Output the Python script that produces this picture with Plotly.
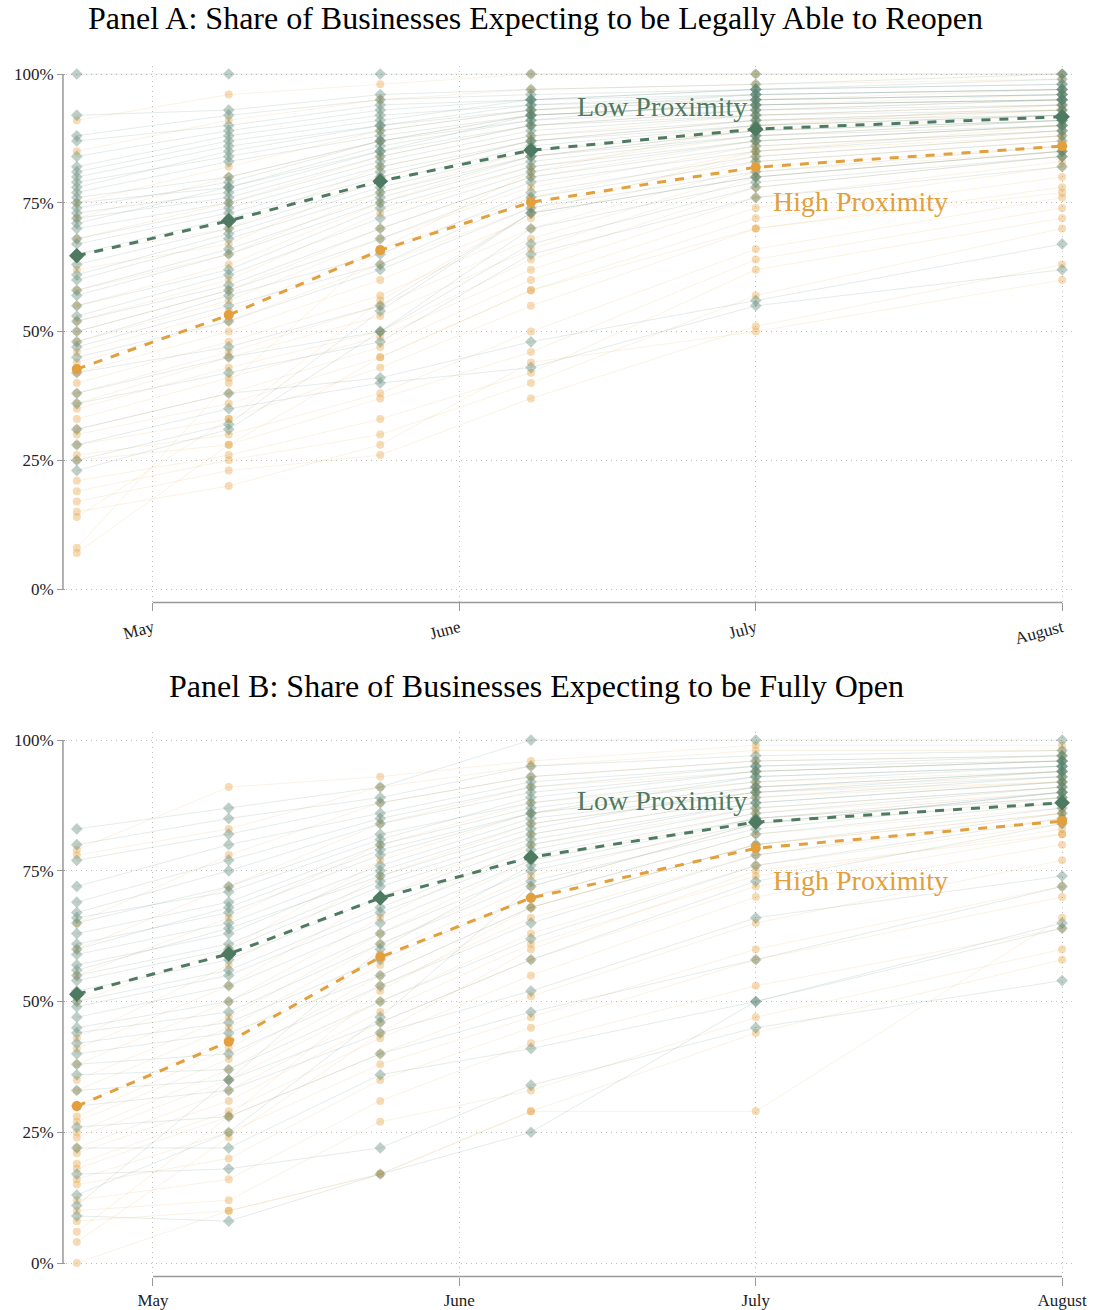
import plotly.graph_objects as go

# ---------------- data ----------------
dates = ["2020-04-23 07:00", "2020-05-08 16:00", "2020-05-24", "2020-06-08 06:00", "2020-07-01", "2020-08-01"]
month_ticks = ["2020-05-01", "2020-06-01", "2020-07-01", "2020-08-01"]
month_labels = ["May", "June", "July", "August"]
y_ticks = [0, 25, 50, 75, 100]

titles = ["Panel A: Share of Businesses Expecting to be Legally Able to Reopen",
          "Panel B: Share of Businesses Expecting to be Fully Open"]

# Panel A: legally able to reopen (%), one row per business group
a_low = [
    [100, 100, 100, 100, 100, 100], [92, 93, 96, 97, 98, 100], [88, 92, 95, 96, 97, 98],
    [87, 90, 94, 95, 97, 98], [84, 89, 93, 95, 96, 97], [82, 88, 92, 94, 96, 97],
    [80, 86, 90, 94, 95, 96], [79, 84, 89, 93, 95, 96], [77, 83, 88, 92, 94, 95],
    [76, 80, 87, 92, 94, 95], [75, 78, 86, 91, 93, 95], [73, 77, 85, 90, 93, 94],
    [72, 76, 84, 90, 92, 94], [70, 75, 83, 89, 92, 93], [68, 74, 82, 88, 91, 93],
    [67, 73, 81, 87, 91, 92], [65, 72, 80, 87, 90, 92], [63, 70, 79, 86, 90, 92],
    [61, 69, 78, 85, 89, 91], [60, 68, 77, 84, 89, 91], [58, 66, 76, 84, 88, 91],
    [57, 65, 75, 83, 88, 90], [55, 62, 74, 82, 87, 90], [53, 61, 72, 81, 87, 90],
    [52, 59, 70, 80, 86, 89], [50, 58, 68, 79, 85, 89], [48, 57, 65, 77, 84, 88],
    [47, 55, 63, 76, 83, 87], [45, 52, 62, 74, 81, 86], [42, 47, 55, 73, 80, 85],
    [38, 45, 50, 67, 78, 84], [36, 42, 48, 65, 76, 82], [31, 38, 41, 48, 56, 67],
    [28, 35, 40, 43, 55, 62], [25, 32, 54, 73, 80, 85], [23, 31, 50, 70, 79, 84],
    [81, 87, 91, 95, 97, 99], [78, 85, 90, 93, 96, 97], [74, 79, 87, 91, 95, 96],
    [71, 78, 85, 92, 94, 95],
]
a_high = [
    [91, 96, 98, 100, 100, 100], [85, 91, 95, 97, 98, 99], [75, 82, 89, 93, 95, 97],
    [72, 80, 87, 92, 94, 96], [68, 75, 84, 90, 93, 95], [65, 70, 82, 88, 92, 94],
    [62, 67, 80, 87, 91, 93], [58, 65, 77, 85, 90, 93], [55, 63, 75, 84, 89, 92],
    [52, 60, 73, 82, 88, 91], [50, 58, 70, 80, 87, 90], [48, 56, 68, 78, 86, 89],
    [46, 54, 66, 76, 85, 88], [44, 52, 63, 74, 84, 88], [42, 50, 60, 72, 83, 87],
    [40, 48, 57, 70, 82, 86], [38, 46, 55, 68, 81, 85], [36, 45, 53, 66, 80, 85],
    [35, 43, 50, 64, 78, 84], [33, 41, 49, 62, 76, 83], [31, 38, 47, 60, 74, 82],
    [30, 36, 45, 58, 72, 80], [28, 33, 43, 55, 70, 78], [26, 30, 38, 50, 66, 76],
    [25, 28, 37, 46, 64, 74], [21, 26, 33, 42, 62, 72], [19, 25, 30, 40, 57, 70],
    [17, 23, 26, 37, 51, 63], [15, 20, 28, 44, 50, 60], [14, 33, 56, 73, 85, 90],
    [8, 40, 66, 81, 90, 94], [7, 28, 45, 58, 70, 77],
]
a_low_mean = [64.7, 71.5, 79.2, 85.2, 89.3, 91.7]
a_high_mean = [42.7, 53.2, 65.8, 75.1, 81.9, 86.0]

# Panel B: fully open (%)
b_low = [
    [83, 87, 91, 100, 100, 100], [80, 85, 89, 95, 97, 98], [77, 82, 88, 93, 96, 97],
    [72, 80, 86, 92, 95, 97], [69, 77, 85, 91, 95, 96], [67, 75, 84, 90, 94, 96],
    [65, 72, 82, 88, 93, 95], [63, 69, 80, 87, 92, 95], [61, 67, 78, 86, 91, 94],
    [59, 65, 76, 85, 90, 94], [57, 63, 75, 84, 90, 93], [55, 61, 73, 82, 89, 93],
    [54, 60, 72, 81, 88, 92], [52, 58, 70, 80, 88, 92], [50, 56, 68, 79, 87, 91],
    [49, 55, 67, 78, 86, 91], [47, 53, 65, 77, 85, 90], [45, 50, 63, 75, 84, 90],
    [44, 48, 61, 73, 83, 89], [42, 46, 58, 70, 82, 88], [40, 44, 55, 68, 80, 87],
    [38, 40, 53, 65, 78, 86], [36, 37, 50, 62, 76, 85], [33, 35, 46, 58, 73, 84],
    [30, 33, 44, 52, 66, 74], [26, 28, 40, 48, 58, 72], [22, 22, 36, 41, 50, 65],
    [17, 18, 22, 34, 45, 54], [13, 25, 47, 72, 84, 90], [9, 8, 17, 25, 50, 64],
    [11, 35, 60, 76, 85, 89], [66, 71, 81, 89, 94, 96], [60, 68, 79, 86, 93, 95],
    [56, 64, 74, 83, 91, 94],
]
b_high = [
    [79, 91, 93, 96, 99, 99], [78, 83, 91, 95, 98, 98], [65, 78, 88, 93, 96, 97],
    [60, 72, 84, 91, 94, 96], [55, 66, 80, 88, 92, 94], [50, 60, 77, 86, 91, 93],
    [43, 57, 74, 84, 90, 92], [41, 53, 70, 82, 89, 92], [38, 50, 66, 80, 87, 91],
    [35, 47, 63, 77, 86, 90], [33, 45, 61, 74, 85, 89], [30, 43, 59, 72, 84, 88],
    [28, 41, 57, 70, 82, 87], [27, 39, 55, 68, 80, 86], [25, 37, 53, 66, 78, 85],
    [24, 35, 50, 63, 76, 84], [22, 33, 48, 61, 74, 83], [21, 31, 46, 58, 72, 82],
    [19, 29, 43, 55, 70, 80], [18, 28, 40, 51, 65, 77], [16, 25, 38, 47, 60, 72],
    [15, 20, 35, 45, 58, 70], [12, 16, 31, 42, 53, 64], [10, 12, 27, 33, 47, 60],
    [8, 10, 17, 29, 44, 58], [6, 28, 52, 68, 80, 86], [4, 24, 44, 60, 75, 82],
    [0, 10, 17, 29, 29, 66],
]
b_low_mean = [51.4, 59.1, 69.8, 77.6, 84.3, 88.0]
b_high_mean = [30.0, 42.3, 58.5, 69.8, 79.3, 84.5]

# ---------------- style ----------------
GREEN = "#4f7a62"
ORANGE = "#e29f3c"
G_LINE = "rgba(95,135,125,0.16)"
G_MARK = "rgba(85,130,110,0.38)"
O_LINE = "rgba(228,160,62,0.14)"
O_MARK = "rgba(228,160,62,0.38)"
SERIF = "Liberation Serif, Times New Roman, serif"
GRID = "#bdbdbd"

fig = go.Figure()

panels = [
    (a_low, a_high, a_low_mean, a_high_mean, "x", "y"),
    (b_low, b_high, b_low_mean, b_high_mean, "x2", "y2"),
]

for low, high, lm, hm, xa, ya in panels:
    for grp, lc, mc, sym in ((high, O_LINE, O_MARK, "circle"), (low, G_LINE, G_MARK, "diamond")):
        for row in grp:
            fig.add_trace(go.Scatter(
                x=dates, y=row, mode="lines+markers", xaxis=xa, yaxis=ya,
                line=dict(color=lc, width=1),
                marker=dict(color=mc, size=8 if sym == "circle" else 9, symbol=sym, line=dict(width=0)),
                showlegend=False, hoverinfo="skip"))
    fig.add_trace(go.Scatter(
        x=dates, y=hm, mode="lines+markers", xaxis=xa, yaxis=ya,
        line=dict(color=ORANGE, width=3, dash="dash"),
        marker=dict(color=ORANGE, size=10, symbol="circle"), showlegend=False))
    fig.add_trace(go.Scatter(
        x=dates, y=lm, mode="lines+markers", xaxis=xa, yaxis=ya,
        line=dict(color=GREEN, width=3, dash="dash"),
        marker=dict(color=GREEN, size=12, symbol="diamond"), showlegend=False))

H = 1310.0
W = 1096.0
xdom = [66 / W, 1072 / W]
x_range = ["2020-04-22 04:48", "2020-08-02"]

def yaxis_cfg(top_px, bot_px, anchor):
    return dict(
        domain=[1 - bot_px / H, 1 - top_px / H], range=[-2.6, 101.5], anchor=anchor,
        tickvals=y_ticks, ticktext=[f"{v}%" for v in y_ticks], automargin=False,
        showgrid=True, gridcolor=GRID, griddash="1px,4px", gridwidth=1,
        zeroline=False, showline=False, ticks="outside", ticklen=8, tickcolor="#999",
        tickfont=dict(family=SERIF, size=17, color="#222"), fixedrange=True)

def xaxis_cfg(anchor, angle):
    return dict(
        domain=xdom, range=x_range, type="date", anchor=anchor, automargin=False,
        tickvals=month_ticks, ticktext=month_labels, tickangle=angle,
        showgrid=True, gridcolor=GRID, griddash="1px,4px", gridwidth=1,
        zeroline=False, showline=False, ticks="outside", ticklen=8, tickcolor="#999",
        tickfont=dict(family=SERIF, size=17, color="#222"), fixedrange=True)

shapes = []
for xr, yr in (("x", "y"), ("x2", "y2")):
    shapes.append(dict(type="line", xref=f"{xr} domain", yref=yr, x0=-0.003, x1=-0.003, y0=0, y1=100,
                       line=dict(color="#999", width=1.5)))
    shapes.append(dict(type="line", xref=xr, yref=f"{yr} domain", x0=month_ticks[0], x1=month_ticks[-1],
                       y0=0, y1=0, line=dict(color="#999", width=1.5)))

annotations = [
    dict(text=titles[0], xref="paper", yref="paper", x=535 / W, y=1 - 18 / H, showarrow=False,
         xanchor="center", yanchor="middle", font=dict(family=SERIF, size=32, color="#000")),
    dict(text=titles[1], xref="paper", yref="paper", x=536 / W, y=1 - 686 / H, showarrow=False,
         xanchor="center", yanchor="middle", font=dict(family=SERIF, size=32, color="#000")),
    dict(text="Low Proximity", xref="x", yref="y", x="2020-06-12 18:00", y=93.6, showarrow=False,
         xanchor="left", yanchor="middle", font=dict(family=SERIF, size=28, color=GREEN)),
    dict(text="High Proximity", xref="x", yref="y", x="2020-07-02 12:00", y=75.3, showarrow=False,
         xanchor="left", yanchor="middle", font=dict(family=SERIF, size=28, color=ORANGE)),
    dict(text="Low Proximity", xref="x2", yref="y2", x="2020-06-12 18:00", y=88.5, showarrow=False,
         xanchor="left", yanchor="middle", font=dict(family=SERIF, size=28, color=GREEN)),
    dict(text="High Proximity", xref="x2", yref="y2", x="2020-07-02 12:00", y=73.2, showarrow=False,
         xanchor="left", yanchor="middle", font=dict(family=SERIF, size=28, color=ORANGE)),
]

fig.update_layout(
    width=1096, height=1310, autosize=False, margin=dict(l=0, r=0, t=0, b=0, pad=0),
    paper_bgcolor="white", plot_bgcolor="white", showlegend=False,
    xaxis=xaxis_cfg("y", -15), yaxis=yaxis_cfg(66.3, 602.4, "x"),
    xaxis2=xaxis_cfg("y2", 0), yaxis2=yaxis_cfg(732.2, 1276.6, "x2"),
    shapes=shapes, annotations=annotations,
)

fig.write_html("out.html", config={"displayModeBar": False, "responsive": False},
               post_script="document.body.style.margin='0';document.body.style.overflow='hidden';")
